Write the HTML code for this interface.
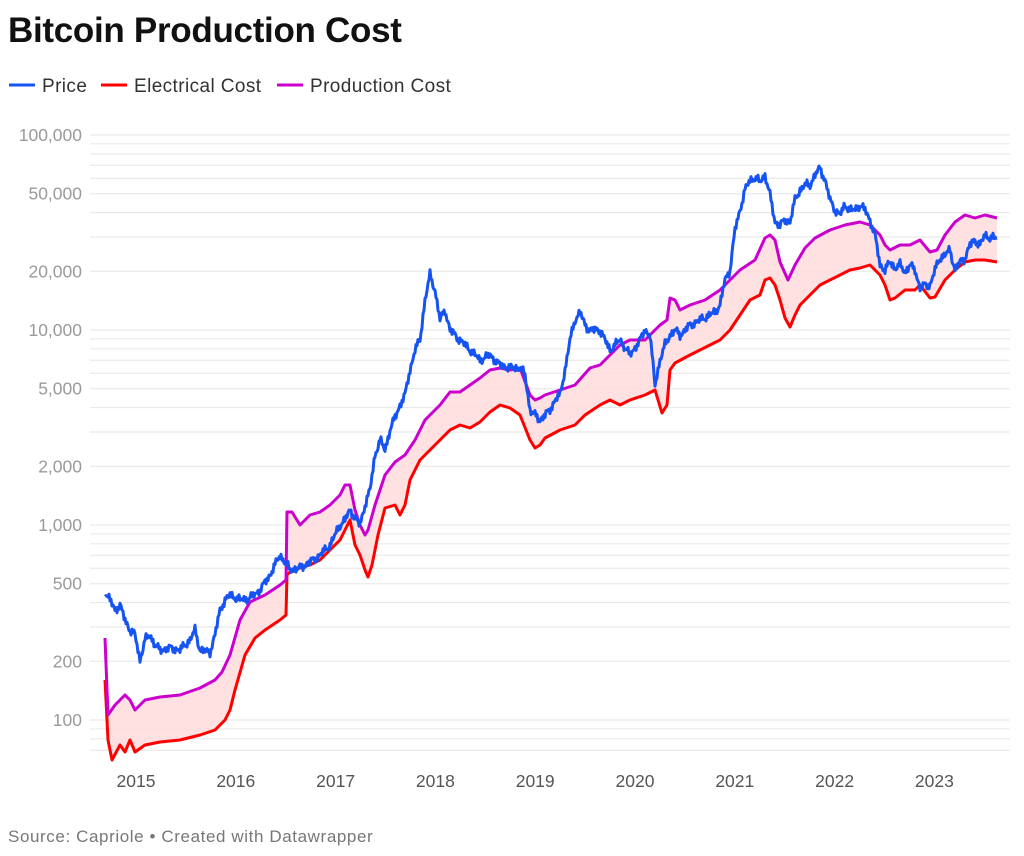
<!DOCTYPE html>
<html><head><meta charset="utf-8"><style>
body{margin:0;background:#fff;font-family:"Liberation Sans",sans-serif;}
</style></head><body>
<svg id="s" width="1024" height="856" xmlns="http://www.w3.org/2000/svg" style="display:block">
<text x="8" y="42" font-size="35" font-weight="bold" fill="#111" font-family="Liberation Sans,sans-serif" letter-spacing="-0.3">Bitcoin Production Cost</text>
<g font-size="19" fill="#333" font-family="Liberation Sans,sans-serif" letter-spacing="0.4">
<line x1="9" y1="85" x2="35" y2="85" stroke="#1553f2" stroke-width="3"/><text x="42" y="92">Price</text>
<line x1="101" y1="85" x2="127" y2="85" stroke="#f00" stroke-width="3"/><text x="134" y="92">Electrical Cost</text>
<line x1="277" y1="85" x2="303" y2="85" stroke="#cc00cc" stroke-width="3"/><text x="310" y="92">Production Cost</text>
</g>
<g id="grid"></g>
<g id="data"></g>
<text x="8" y="842" font-size="17" fill="#777" font-family="Liberation Sans,sans-serif" letter-spacing="0.6">Source: Capriole • Created with Datawrapper</text>
</svg>
<script>
var NS="http://www.w3.org/2000/svg";
function Y(v){return 720-(Math.log10(v)-2)*195;}
var g=document.getElementById("grid"),h="";
for(var e=1;e<=5;e++){for(var m=1;m<=9;m++){var v=m*Math.pow(10,e);if(v<70||v>100000)continue;var y=Y(v).toFixed(1);
h+='<line x1="90" x2="1010" y1="'+y+'" y2="'+y+'" stroke="#e6e6e6" stroke-width="1"/>';}}
var labs=[[100000,"100,000"],[50000,"50,000"],[20000,"20,000"],[10000,"10,000"],[5000,"5,000"],[2000,"2,000"],[1000,"1,000"],[500,"500"],[200,"200"],[100,"100"]];
labs.forEach(function(l){h+='<text x="82" y="'+(Y(l[0])+6).toFixed(1)+'" text-anchor="end" font-size="17.5" fill="#9a9a9a">'+l[1]+'</text>';});
for(var yr=2015;yr<=2023;yr++){h+='<text x="'+(136+(yr-2015)*99.8)+'" y="787" text-anchor="middle" font-size="17.5" fill="#555">'+yr+'</text>';}
g.innerHTML=h;
var P=[[105,592],[110,600],[115,610],[120,605],[125,620],[130,630],[135,635],[140,660],[145,640],[150,635],[155,645],[160,650],[170,648],[180,650],[190,640],[195,630],[200,650],[210,652],[215,635],[220,610],[225,600],[230,595],[240,600],[250,598],[260,590],[270,575],[280,555],[290,570],[300,568],[310,562],[320,555],[330,545],[340,525],[345,520],[350,510],[360,525],[365,505],[370,490],[375,455],[380,440],[385,450],[390,430],[400,405],[405,395],[410,370],[415,350],[420,340],[425,300],[430,275],[435,290],[440,320],[445,310],[450,330],[460,340],[470,350],[480,360],[490,355],[500,365],[510,368],[520,368],[525,375],[530,410],[535,415],[540,420],[545,415],[550,410],[555,400],[560,395],[565,370],[570,340],[575,320],[580,312],[585,325],[590,330],[600,330],[610,350],[620,340],[630,355],[640,340],[645,330],[650,335],[655,385],[660,360],[665,345],[670,335],[675,330],[680,335],[690,325],[700,320],[710,315],[715,312],[720,305],[725,280],[730,270],[735,230],[740,210],[745,190],[750,180],[755,178],[760,182],[765,175],[770,195],[775,222],[780,225],[785,220],[790,222],[795,200],[800,190],[805,185],[810,185],[815,175],[820,168],[825,180],[830,200],[835,210],[840,215],[845,205],[850,210],[855,210],[860,205],[865,210],[870,220],[875,235],[880,265],[885,270],[890,262],[895,268],[900,265],[905,272],[910,265],[915,270],[920,288],[925,285],[930,285],[935,270],[940,258],[945,255],[950,250],[955,270],[960,262],[965,258],[970,245],[975,240],[980,245],[985,235],[990,238],[997,238]];
var R=[[105,680],[108,740],[112,760],[120,745],[125,752],[130,740],[135,752],[145,745],[160,742],[180,740],[200,735],[215,730],[225,720],[230,710],[235,690],[245,655],[255,638],[265,630],[280,620],[286,615],[287,575],[290,572],[300,568],[310,565],[320,560],[330,550],[340,540],[345,530],[350,520],[355,545],[360,555],[365,570],[368,577],[372,565],[378,535],[385,508],[395,505],[400,515],[405,505],[410,480],[420,460],[430,450],[440,440],[450,430],[460,425],[470,428],[480,422],[490,412],[500,405],[510,408],[520,415],[530,440],[535,448],[540,445],[545,438],[560,430],[575,425],[585,415],[600,405],[610,400],[620,405],[630,400],[645,395],[655,390],[662,413],[667,405],[670,370],[675,363],[690,355],[700,350],[710,345],[720,340],[730,330],[740,315],[750,300],[760,295],[765,280],[770,278],[775,285],[780,300],[785,318],[790,327],[795,315],[800,305],[810,295],[820,285],[830,280],[840,275],[850,270],[860,268],[870,265],[880,275],[885,285],[890,300],[895,298],[905,290],[915,290],[920,285],[930,298],[935,297],[945,280],[955,270],[965,262],[975,260],[985,260],[997,262]];
var M=[[105,638],[108,715],[115,705],[125,695],[130,700],[135,710],[145,700],[160,697],[180,695],[200,688],[215,680],[222,672],[230,655],[240,620],[250,602],[265,595],[280,585],[286,580],[287,512],[292,512],[300,525],[310,515],[320,512],[330,505],[340,495],[345,485],[350,485],[355,510],[360,525],[365,535],[368,530],[375,505],[385,475],[395,462],[405,455],[415,440],[425,420],[440,405],[450,392],[460,392],[470,385],[480,378],[490,370],[500,368],[510,370],[520,368],[530,395],[535,400],[540,398],[545,395],[560,390],[575,385],[590,368],[600,365],[610,355],[620,345],[630,340],[645,340],[660,325],[667,320],[670,298],[675,300],[680,310],[690,305],[705,300],[720,290],[740,270],[755,260],[765,238],[770,235],[775,240],[780,262],[788,280],[795,265],[805,248],[815,238],[830,230],[845,225],[860,222],[870,225],[880,235],[885,245],[890,250],[900,245],[910,245],[920,240],[930,252],[937,250],[945,235],[955,222],[965,215],[975,218],[985,215],[997,218]];
function jit(a,amp){var o=[];for(var i=0;i<a.length-1;i++){var x0=a[i][0],y0=a[i][1],x1=a[i+1][0],y1=a[i+1][1];for(var x=x0;x<x1;x+=1){var t=(x-x0)/(x1-x0);var n=amp*(Math.sin(x*2.7)*0.5+Math.sin(x*7.3+1)*0.3+Math.sin(x*13.1+2)*0.3);o.push([x,y0+(y1-y0)*t+n]);}}o.push(a[a.length-1]);return o;}
function pts(a){return a.map(function(p){return p[0].toFixed(1)+","+p[1].toFixed(1);}).join(" ");}
var d=document.getElementById("data"),s="";
s+='<polygon points="'+pts(M)+' '+pts(R.slice().reverse())+'" fill="#ffdcdc" opacity="0.85"/>';
s+='<polyline points="'+pts(R)+'" fill="none" stroke="#f00" stroke-width="3" stroke-linejoin="round"/>';
s+='<polyline points="'+pts(M)+'" fill="none" stroke="#cc00cc" stroke-width="3" stroke-linejoin="round"/>';
s+='<polyline points="'+pts(jit(P,5))+'" fill="none" stroke="#1553f2" stroke-width="3" stroke-linejoin="round"/>';
d.innerHTML=s;
</script>
</body></html>
